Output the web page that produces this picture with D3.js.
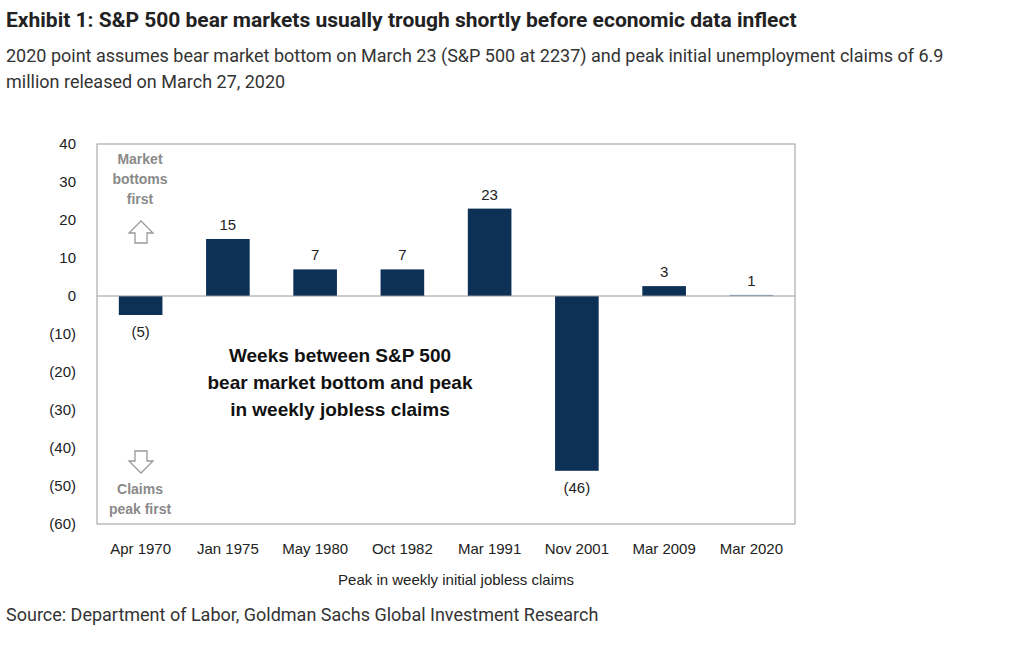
<!DOCTYPE html>
<html lang="en">
<head>
<script src="https://d3js.org/d3.v7.min.js"></script>
<style>
  body { margin: 0; background: #fff; }
  .title { font-family: "Liberation Sans Narrow", "Roboto", sans-serif; font-weight: bold; font-size: 21px; fill: #222; }
  .sub, .src { font-family: "Liberation Sans Narrow", "Roboto", sans-serif; font-size: 18px; fill: #333; }
  .tick, .lbl, .axt { font-family: "Liberation Sans", Arial, sans-serif; font-size: 15px; fill: #222; }
</style>
</head>
<body>
<svg id="chart" width="1024" height="645"></svg>
<script>
const categories = ["Apr 1970", "Jan 1975", "May 1980", "Oct 1982", "Mar 1991", "Nov 2001", "Mar 2009", "Mar 2020"];
const weeks = [-5, 15, 7, 7, 23, -46, 2.6, 0.3];
const weekLabels = ["(5)", "15", "7", "7", "23", "(46)", "3", "1"];
const yTicks = [40, 30, 20, 10, 0, -10, -20, -30, -40, -50, -60];

const svg = d3.select("#chart");
svg.append("text").attr("class", "title").attr("x", 6).attr("y", 27)
  .text("Exhibit 1: S&P 500 bear markets usually trough shortly before economic data inflect");
svg.append("text").attr("class", "sub").attr("x", 6).attr("y", 62)
  .text("2020 point assumes bear market bottom on March 23 (S&P 500 at 2237) and peak initial unemployment claims of 6.9");
svg.append("text").attr("class", "sub").attr("x", 6).attr("y", 88)
  .text("million released on March 27, 2020");
svg.append("text").attr("class", "src").attr("x", 6).attr("y", 621)
  .text("Source: Department of Labor, Goldman Sachs Global Investment Research");

const plotL = 97, plotR = 795, plotT = 144, plotB = 524;
const x = d3.scaleBand().domain(categories).range([plotL, plotR]).paddingInner(0.5).paddingOuter(0.25);
const y = d3.scaleLinear().domain([-60, 40]).range([plotB, plotT]);

svg.append("rect").attr("x", plotL).attr("y", plotT).attr("width", plotR - plotL).attr("height", plotB - plotT)
  .attr("fill", "none").attr("stroke", "#999");

svg.append("g").selectAll("text").data(yTicks).join("text")
  .attr("class", "tick").attr("x", 76).attr("y", d => y(d) + 5).attr("text-anchor", "end")
  .text(d => d < 0 ? "(" + (-d) + ")" : d);

svg.append("g").selectAll("rect").data(weeks).join("rect")
  .attr("x", (d, i) => x(categories[i]))
  .attr("width", x.bandwidth())
  .attr("y", d => y(Math.max(0, d)))
  .attr("height", d => Math.abs(y(d) - y(0)))
  .attr("fill", (d, i) => i === 7 ? "#8fa7c0" : "#0d3056");

svg.append("line").attr("x1", plotL).attr("x2", plotR).attr("y1", y(0)).attr("y2", y(0)).attr("stroke", "#999");

svg.append("g").selectAll("text").data(weeks).join("text")
  .attr("class", "lbl").attr("text-anchor", "middle")
  .attr("x", (d, i) => x(categories[i]) + x.bandwidth() / 2)
  .attr("y", d => d >= 0 ? y(d) - 9 : y(d) + 22)
  .text((d, i) => weekLabels[i]);

svg.append("g").selectAll("text").data(categories).join("text")
  .attr("class", "tick").attr("text-anchor", "middle")
  .attr("x", d => x(d) + x.bandwidth() / 2).attr("y", 554).text(d => d);
svg.append("text").attr("class", "axt").attr("text-anchor", "middle").attr("x", (plotL + plotR) / 2 + 10).attr("y", 585)
  .text("Peak in weekly initial jobless claims");

// annotations
const g = svg.append("g").attr("font-family", "Liberation Sans, Arial, sans-serif").attr("font-weight", "bold")
  .attr("font-size", 14).attr("fill", "#8a8a8a").attr("text-anchor", "middle");
[["Market", 164], ["bottoms", 184], ["first", 204]].forEach(([t, yy]) => g.append("text").attr("x", 140).attr("y", yy).text(t));
[["Claims", 494], ["peak first", 514]].forEach(([t, yy]) => g.append("text").attr("x", 140).attr("y", yy).text(t));
const arrowUp = "M-6,0 L-6,-10 L-12,-10 L0,-22 L12,-10 L6,-10 L6,0 Z";
svg.append("path").attr("d", arrowUp).attr("transform", "translate(141,243)")
  .attr("fill", "#fff").attr("stroke", "#999").attr("stroke-width", 1.3);
svg.append("path").attr("d", arrowUp).attr("transform", "translate(141,451) rotate(180)")
  .attr("fill", "#fff").attr("stroke", "#999").attr("stroke-width", 1.3);

const m = svg.append("g").attr("font-family", "Liberation Sans, Arial, sans-serif").attr("font-weight", "bold")
  .attr("font-size", 19).attr("fill", "#111").attr("text-anchor", "middle");
[["Weeks between S&P 500", 362], ["bear market bottom and peak", 389], ["in weekly jobless claims", 416]]
  .forEach(([t, yy]) => m.append("text").attr("x", 340).attr("y", yy).text(t));
</script>
</body>
</html>
